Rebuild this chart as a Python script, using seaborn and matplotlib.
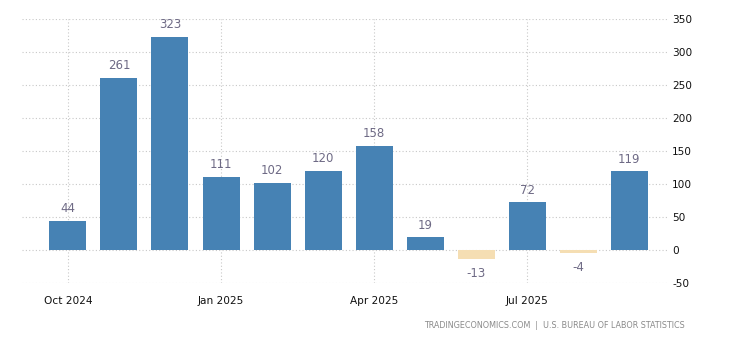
import matplotlib
matplotlib.use("Agg")
import matplotlib.pyplot as plt
import seaborn as sns
import pandas as pd

# Monthly change in nonfarm payrolls (thousands)
months = ["2024-10", "2024-11", "2024-12", "2025-01", "2025-02", "2025-03",
          "2025-04", "2025-05", "2025-06", "2025-07", "2025-08", "2025-09"]
values = [44, 261, 323, 111, 102, 120, 158, 19, -13, 72, -4, 119]
tick_labels = ["Oct 2024", "Jan 2025", "Apr 2025", "Jul 2025"]
tick_months = ["2024-10", "2025-01", "2025-04", "2025-07"]
y_ticks = [-50, 0, 50, 100, 150, 200, 250, 300, 350]

df = pd.DataFrame({"month": months, "value": values})
df["sign"] = ["pos" if v >= 0 else "neg" for v in values]

sns.set_theme(style="white")
plt.rcParams["font.family"] = ["DejaVu Sans"]

fig = plt.figure(figsize=(7.3, 3.4), dpi=100)
ax = fig.add_axes([22 / 730, 1 - 283 / 340, (668 - 22) / 730, (283 - 19) / 340])

sns.barplot(data=df, x="month", y="value", hue="sign",
            palette={"pos": "#4682b4", "neg": "#f5deb3"},
            dodge=False, width=0.725, legend=False, ax=ax, saturation=1,
            linewidth=0, edgecolor="none")

ax.set_ylim(-50, 350)
ax.set_xlim(-0.9, 11.76)
ax.set_yticks(y_ticks)
ax.set_yticklabels([str(t) for t in y_ticks])
ax.yaxis.tick_right()
ax.tick_params(axis="y", length=0, pad=3, labelsize=7.6, labelcolor="#111111")

tick_pos = [months.index(m) for m in tick_months]
ax.set_xticks(tick_pos)
ax.set_xticklabels(tick_labels)
ax.tick_params(axis="x", length=4, width=0.8, color="#cccccc", direction="out",
               pad=5, labelsize=7.6, labelcolor="#111111")

grid_kw = dict(color="#c8c8c8", linestyle=(0, (1, 2)), linewidth=0.8)
ax.grid(True, axis="y", **grid_kw)
ax.grid(True, axis="x", **grid_kw)
ax.set_axisbelow(True)

for s in ax.spines.values():
    s.set_visible(False)
ax.set_xlabel("")
ax.set_ylabel("")

# value labels above positive bars, below negative ones
for i, v in enumerate(values):
    dy = 8.7 if v >= 0 else -11
    ax.annotate(str(v), (i, v), xytext=(0, dy), textcoords="offset points",
                ha="center", va="center", fontsize=8.5, color="#6e6a85",
                annotation_clip=False)

fig.text(685 / 730, 1 - 325 / 340,
         "TRADINGECONOMICS.COM  |  U.S. BUREAU OF LABOR STATISTICS",
         ha="right", va="center", fontsize=5.8, color="#8a8a8a")

fig.savefig("out.png", dpi=100)
